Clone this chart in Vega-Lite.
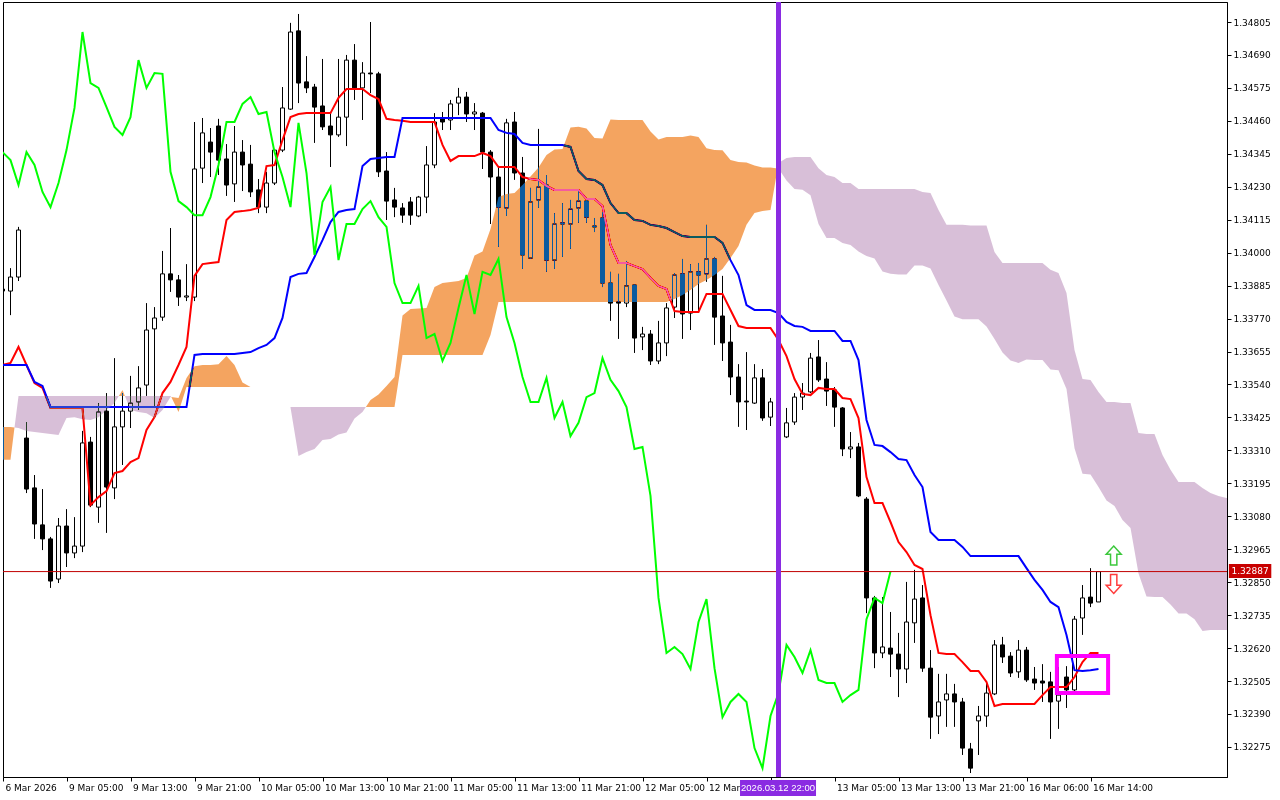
{
"$schema": "https://vega.github.io/schema/vega-lite/v6.json",
"width": 1224, "height": 775,
"autosize": {"type": "none"},
"padding": {"left": 3, "top": 2, "right": 53, "bottom": 23},
"background": "white",
"config": {"view": {"stroke": "#000000", "strokeWidth": 1}, "axis": {"labelFont": "DejaVu Sans", "labelFontSize": 9, "labelColor": "#000000", "tickColor": "#000000", "domainColor": "#000000", "grid": false}},
"datasets": {
"candles": [
{"i":0,"o":1.33873,"h":1.33877,"l":1.33863,"c":1.33866},
{"i":1,"o":1.33866,"h":1.33946,"l":1.33782,"c":1.33915},
{"i":2,"o":1.33915,"h":1.34090,"l":1.33901,"c":1.34079},
{"i":3,"o":1.33353,"h":1.33409,"l":1.33161,"c":1.33175},
{"i":4,"o":1.33179,"h":1.33224,"l":1.33001,"c":1.33053},
{"i":5,"o":1.33050,"h":1.33175,"l":1.32962,"c":1.33001},
{"i":6,"o":1.33001,"h":1.33008,"l":1.32830,"c":1.32854},
{"i":7,"o":1.32861,"h":1.33074,"l":1.32847,"c":1.33046},
{"i":8,"o":1.33046,"h":1.33105,"l":1.32903,"c":1.32952},
{"i":9,"o":1.32952,"h":1.33077,"l":1.32934,"c":1.32976},
{"i":10,"o":1.32976,"h":1.33378,"l":1.32955,"c":1.33336},
{"i":11,"o":1.33339,"h":1.33357,"l":1.33112,"c":1.33119},
{"i":12,"o":1.33112,"h":1.33475,"l":1.33057,"c":1.33444},
{"i":13,"o":1.33447,"h":1.33510,"l":1.33022,"c":1.33182},
{"i":14,"o":1.33179,"h":1.33632,"l":1.33140,"c":1.33392},
{"i":15,"o":1.33392,"h":1.33510,"l":1.33259,"c":1.33447},
{"i":16,"o":1.33447,"h":1.33570,"l":1.33388,"c":1.33475},
{"i":17,"o":1.33479,"h":1.33604,"l":1.33451,"c":1.33528},
{"i":18,"o":1.33538,"h":1.33824,"l":1.33500,"c":1.33730},
{"i":19,"o":1.33734,"h":1.33810,"l":1.33461,"c":1.33772},
{"i":20,"o":1.33775,"h":1.34006,"l":1.33762,"c":1.33926},
{"i":21,"o":1.33926,"h":1.34086,"l":1.33863,"c":1.33905},
{"i":22,"o":1.33905,"h":1.33922,"l":1.33814,"c":1.33845},
{"i":23,"o":1.33845,"h":1.33960,"l":1.33831,"c":1.33849},
{"i":24,"o":1.33845,"h":1.34456,"l":1.33831,"c":1.34292},
{"i":25,"o":1.34295,"h":1.34470,"l":1.34243,"c":1.34418},
{"i":26,"o":1.34386,"h":1.34435,"l":1.34264,"c":1.34351},
{"i":27,"o":1.34442,"h":1.34467,"l":1.34271,"c":1.34323},
{"i":28,"o":1.34327,"h":1.34379,"l":1.34198,"c":1.34236},
{"i":29,"o":1.34240,"h":1.34442,"l":1.34177,"c":1.34351},
{"i":30,"o":1.34351,"h":1.34393,"l":1.34215,"c":1.34306},
{"i":31,"o":1.34309,"h":1.34376,"l":1.34194,"c":1.34212},
{"i":32,"o":1.34219,"h":1.34257,"l":1.34138,"c":1.34159},
{"i":33,"o":1.34159,"h":1.34282,"l":1.34138,"c":1.34243},
{"i":34,"o":1.34243,"h":1.34362,"l":1.34236,"c":1.34358},
{"i":35,"o":1.34358,"h":1.34578,"l":1.34351,"c":1.34505},
{"i":36,"o":1.34501,"h":1.34802,"l":1.34498,"c":1.34770},
{"i":37,"o":1.34774,"h":1.34833,"l":1.34522,"c":1.34592},
{"i":38,"o":1.34596,"h":1.34686,"l":1.34557,"c":1.34575},
{"i":39,"o":1.34578,"h":1.34589,"l":1.34383,"c":1.34508},
{"i":40,"o":1.34512,"h":1.34676,"l":1.34428,"c":1.34439},
{"i":41,"o":1.34442,"h":1.34487,"l":1.34299,"c":1.34411},
{"i":42,"o":1.34411,"h":1.34676,"l":1.34404,"c":1.34473},
{"i":43,"o":1.34473,"h":1.34690,"l":1.34372,"c":1.34672},
{"i":44,"o":1.34672,"h":1.34728,"l":1.34533,"c":1.34575},
{"i":45,"o":1.34575,"h":1.34665,"l":1.34463,"c":1.34627},
{"i":46,"o":1.34627,"h":1.34805,"l":1.34557,"c":1.34624},
{"i":47,"o":1.34624,"h":1.34631,"l":1.34264,"c":1.34282},
{"i":48,"o":1.34285,"h":1.34351,"l":1.34114,"c":1.34180},
{"i":49,"o":1.34184,"h":1.34226,"l":1.34124,"c":1.34159},
{"i":50,"o":1.34156,"h":1.34173,"l":1.34104,"c":1.34131},
{"i":51,"o":1.34177,"h":1.34194,"l":1.34097,"c":1.34131},
{"i":52,"o":1.34128,"h":1.34198,"l":1.34124,"c":1.34194},
{"i":53,"o":1.34194,"h":1.34372,"l":1.34138,"c":1.34306},
{"i":54,"o":1.34306,"h":1.34487,"l":1.34295,"c":1.34456},
{"i":55,"o":1.34467,"h":1.34491,"l":1.34428,"c":1.34456},
{"i":56,"o":1.34463,"h":1.34533,"l":1.34428,"c":1.34519},
{"i":57,"o":1.34522,"h":1.34575,"l":1.34480,"c":1.34543},
{"i":58,"o":1.34543,"h":1.34561,"l":1.34456,"c":1.34484},
{"i":59,"o":1.34484,"h":1.34522,"l":1.34428,"c":1.34491},
{"i":60,"o":1.34487,"h":1.34491,"l":1.34292,"c":1.34351},
{"i":61,"o":1.34351,"h":1.34358,"l":1.34100,"c":1.34264},
{"i":62,"o":1.34264,"h":1.34299,"l":1.34020,"c":1.34159},
{"i":63,"o":1.34156,"h":1.34467,"l":1.34128,"c":1.34453},
{"i":64,"o":1.34456,"h":1.34491,"l":1.34254,"c":1.34278},
{"i":65,"o":1.34278,"h":1.34334,"l":1.33943,"c":1.33992},
{"i":66,"o":1.33981,"h":1.34226,"l":1.33978,"c":1.34177},
{"i":67,"o":1.34184,"h":1.34432,"l":1.34156,"c":1.34229},
{"i":68,"o":1.34236,"h":1.34271,"l":1.33933,"c":1.33974},
{"i":69,"o":1.33974,"h":1.34138,"l":1.33943,"c":1.34100},
{"i":70,"o":1.34104,"h":1.34173,"l":1.33985,"c":1.34100},
{"i":71,"o":1.34100,"h":1.34184,"l":1.34013,"c":1.34152},
{"i":72,"o":1.34156,"h":1.34222,"l":1.34104,"c":1.34180},
{"i":73,"o":1.34180,"h":1.34191,"l":1.34104,"c":1.34124},
{"i":74,"o":1.34093,"h":1.34121,"l":1.34072,"c":1.34090},
{"i":75,"o":1.34121,"h":1.34142,"l":1.33880,"c":1.33894},
{"i":76,"o":1.33894,"h":1.33933,"l":1.33762,"c":1.33824},
{"i":77,"o":1.33828,"h":1.33926,"l":1.33699,"c":1.33824},
{"i":78,"o":1.33824,"h":1.33971,"l":1.33810,"c":1.33884},
{"i":79,"o":1.33887,"h":1.33890,"l":1.33650,"c":1.33702},
{"i":80,"o":1.33706,"h":1.33741,"l":1.33660,"c":1.33716},
{"i":81,"o":1.33716,"h":1.33730,"l":1.33608,"c":1.33622},
{"i":82,"o":1.33622,"h":1.33762,"l":1.33611,"c":1.33685},
{"i":83,"o":1.33685,"h":1.33824,"l":1.33639,"c":1.33807},
{"i":84,"o":1.33810,"h":1.33929,"l":1.33772,"c":1.33922},
{"i":85,"o":1.33926,"h":1.33978,"l":1.33699,"c":1.33786},
{"i":86,"o":1.33789,"h":1.33960,"l":1.33730,"c":1.33933},
{"i":87,"o":1.33933,"h":1.33964,"l":1.33793,"c":1.33922},
{"i":88,"o":1.33926,"h":1.34097,"l":1.33898,"c":1.33978},
{"i":89,"o":1.33978,"h":1.33985,"l":1.33678,"c":1.33775},
{"i":90,"o":1.33779,"h":1.33919,"l":1.33622,"c":1.33685},
{"i":91,"o":1.33688,"h":1.33748,"l":1.33503,"c":1.33566},
{"i":92,"o":1.33566,"h":1.33611,"l":1.33392,"c":1.33479},
{"i":93,"o":1.33482,"h":1.33653,"l":1.33381,"c":1.33479},
{"i":94,"o":1.33475,"h":1.33611,"l":1.33472,"c":1.33563},
{"i":95,"o":1.33563,"h":1.33594,"l":1.33413,"c":1.33423},
{"i":96,"o":1.33426,"h":1.33493,"l":1.33395,"c":1.33479},
{"i":97,"o":1.33479,"h":1.33493,"l":1.33346,"c":1.33360},
{"i":98,"o":1.33357,"h":1.33458,"l":1.33353,"c":1.33406},
{"i":99,"o":1.33409,"h":1.33510,"l":1.33399,"c":1.33496},
{"i":100,"o":1.33496,"h":1.33545,"l":1.33451,"c":1.33510},
{"i":101,"o":1.33514,"h":1.33650,"l":1.33510,"c":1.33632},
{"i":102,"o":1.33636,"h":1.33695,"l":1.33549,"c":1.33556},
{"i":103,"o":1.33559,"h":1.33618,"l":1.33465,"c":1.33517},
{"i":104,"o":1.33521,"h":1.33531,"l":1.33392,"c":1.33461},
{"i":105,"o":1.33458,"h":1.33461,"l":1.33290,"c":1.33315},
{"i":106,"o":1.33315,"h":1.33374,"l":1.33283,"c":1.33322},
{"i":107,"o":1.33322,"h":1.33336,"l":1.33147,"c":1.33151},
{"i":108,"o":1.33140,"h":1.33147,"l":1.32742,"c":1.32795},
{"i":109,"o":1.32795,"h":1.32802,"l":1.32550,"c":1.32603},
{"i":110,"o":1.32603,"h":1.32798,"l":1.32585,"c":1.32624},
{"i":111,"o":1.32620,"h":1.32746,"l":1.32519,"c":1.32599},
{"i":112,"o":1.32599,"h":1.32673,"l":1.32449,"c":1.32547},
{"i":113,"o":1.32547,"h":1.32851,"l":1.32498,"c":1.32711},
{"i":114,"o":1.32708,"h":1.32893,"l":1.32638,"c":1.32791},
{"i":115,"o":1.32795,"h":1.32840,"l":1.32537,"c":1.32550},
{"i":116,"o":1.32550,"h":1.32613,"l":1.32303,"c":1.32379},
{"i":117,"o":1.32383,"h":1.32530,"l":1.32320,"c":1.32432},
{"i":118,"o":1.32439,"h":1.32530,"l":1.32345,"c":1.32460},
{"i":119,"o":1.32460,"h":1.32495,"l":1.32345,"c":1.32432},
{"i":120,"o":1.32432,"h":1.32446,"l":1.32247,"c":1.32271},
{"i":121,"o":1.32268,"h":1.32289,"l":1.32184,"c":1.32201},
{"i":122,"o":1.32366,"h":1.32418,"l":1.32247,"c":1.32383},
{"i":123,"o":1.32383,"h":1.32498,"l":1.32345,"c":1.32463},
{"i":124,"o":1.32460,"h":1.32648,"l":1.32456,"c":1.32631},
{"i":125,"o":1.32631,"h":1.32659,"l":1.32568,"c":1.32589},
{"i":126,"o":1.32592,"h":1.32606,"l":1.32519,"c":1.32533},
{"i":127,"o":1.32537,"h":1.32648,"l":1.32516,"c":1.32613},
{"i":128,"o":1.32613,"h":1.32624,"l":1.32502,"c":1.32509},
{"i":129,"o":1.32512,"h":1.32554,"l":1.32474,"c":1.32498},
{"i":130,"o":1.32505,"h":1.32564,"l":1.32432,"c":1.32498},
{"i":131,"o":1.32502,"h":1.32537,"l":1.32303,"c":1.32432},
{"i":132,"o":1.32435,"h":1.32554,"l":1.32338,"c":1.32456},
{"i":133,"o":1.32519,"h":1.32557,"l":1.32411,"c":1.32474},
{"i":134,"o":1.32474,"h":1.32732,"l":1.32467,"c":1.32721},
{"i":135,"o":1.32725,"h":1.32840,"l":1.32666,"c":1.32795},
{"i":136,"o":1.32798,"h":1.32899,"l":1.32763,"c":1.32777},
{"i":137,"o":1.32781,"h":1.32889,"l":1.32781,"c":1.32887}
],
"lines": [
{"i":0,"t":1.33608,"k":1.33608},{"i":1,"t":1.33615,"k":1.33608},{"i":2,"t":1.33671,"k":1.33608},{"i":3,"t":1.33608,"k":1.33608},
{"i":4,"t":1.33545,"k":1.33549},{"i":5,"t":1.33528,"k":1.33535},{"i":6,"t":1.33458,"k":1.33461},{"i":7,"t":1.33458,"k":1.33461},
{"i":8,"t":1.33458,"k":1.33461},{"i":9,"t":1.33458,"k":1.33461},{"i":10,"t":1.33458,"k":1.33461},{"i":11,"t":1.33119,"k":1.33461},
{"i":12,"t":1.33147,"k":1.33461},{"i":13,"t":1.33168,"k":1.33461},{"i":14,"t":1.33231,"k":1.33461},{"i":15,"t":1.33238,"k":1.33461},
{"i":16,"t":1.33269,"k":1.33461},{"i":17,"t":1.33283,"k":1.33461},{"i":18,"t":1.33381,"k":1.33461},{"i":19,"t":1.33426,"k":1.33461},
{"i":20,"t":1.33510,"k":1.33461},{"i":21,"t":1.33549,"k":1.33461},{"i":22,"t":1.33608,"k":1.33461},{"i":23,"t":1.33671,"k":1.33461},
{"i":24,"t":1.33919,"k":1.33643},{"i":25,"t":1.33960,"k":1.33646},{"i":26,"t":1.33964,"k":1.33646},{"i":27,"t":1.33967,"k":1.33646},
{"i":28,"t":1.34114,"k":1.33646},{"i":29,"t":1.34142,"k":1.33646},{"i":30,"t":1.34145,"k":1.33650},{"i":31,"t":1.34149,"k":1.33653},
{"i":32,"t":1.34156,"k":1.33667},{"i":33,"t":1.34302,"k":1.33678},{"i":34,"t":1.34306,"k":1.33702},{"i":35,"t":1.34393,"k":1.33772},
{"i":36,"t":1.34473,"k":1.33915},{"i":37,"t":1.34484,"k":1.33926},{"i":38,"t":1.34487,"k":1.33929},{"i":39,"t":1.34487,"k":1.33985},
{"i":40,"t":1.34487,"k":1.34044},{"i":41,"t":1.34487,"k":1.34107},{"i":42,"t":1.34540,"k":1.34142},{"i":43,"t":1.34571,"k":1.34149},
{"i":44,"t":1.34571,"k":1.34152},{"i":45,"t":1.34571,"k":1.34302},{"i":46,"t":1.34550,"k":1.34327},{"i":47,"t":1.34536,"k":1.34330},
{"i":48,"t":1.34467,"k":1.34334},{"i":49,"t":1.34463,"k":1.34334},{"i":50,"t":1.34460,"k":1.34470},{"i":51,"t":1.34456,"k":1.34470},
{"i":52,"t":1.34456,"k":1.34470},{"i":53,"t":1.34456,"k":1.34470},{"i":54,"t":1.34456,"k":1.34470},{"i":55,"t":1.34376,"k":1.34470},
{"i":56,"t":1.34320,"k":1.34470},{"i":57,"t":1.34337,"k":1.34470},{"i":58,"t":1.34337,"k":1.34470},{"i":59,"t":1.34337,"k":1.34470},
{"i":60,"t":1.34348,"k":1.34470},{"i":61,"t":1.34337,"k":1.34470},{"i":62,"t":1.34299,"k":1.34428},{"i":63,"t":1.34299,"k":1.34418},
{"i":64,"t":1.34299,"k":1.34414},{"i":65,"t":1.34264,"k":1.34383},{"i":66,"t":1.34257,"k":1.34376},{"i":67,"t":1.34254,"k":1.34376},
{"i":68,"t":1.34233,"k":1.34376},{"i":69,"t":1.34219,"k":1.34376},{"i":70,"t":1.34219,"k":1.34376},{"i":71,"t":1.34219,"k":1.34369},
{"i":72,"t":1.34219,"k":1.34285},{"i":73,"t":1.34187,"k":1.34257},{"i":74,"t":1.34187,"k":1.34254},{"i":75,"t":1.34163,"k":1.34236},
{"i":76,"t":1.34027,"k":1.34173},{"i":77,"t":1.33964,"k":1.34138},{"i":78,"t":1.33964,"k":1.34138},{"i":79,"t":1.33953,"k":1.34114},
{"i":80,"t":1.33943,"k":1.34111},{"i":81,"t":1.33912,"k":1.34097},{"i":82,"t":1.33884,"k":1.34093},{"i":83,"t":1.33873,"k":1.34086},
{"i":84,"t":1.33796,"k":1.34072},{"i":85,"t":1.33793,"k":1.34058},{"i":86,"t":1.33793,"k":1.34055},{"i":87,"t":1.33793,"k":1.34055},
{"i":88,"t":1.33856,"k":1.34055},{"i":89,"t":1.33856,"k":1.34055},{"i":90,"t":1.33856,"k":1.34034},{"i":91,"t":1.33800,"k":1.33974},
{"i":92,"t":1.33744,"k":1.33922},{"i":93,"t":1.33737,"k":1.33817},{"i":94,"t":1.33737,"k":1.33800},{"i":95,"t":1.33737,"k":1.33800},
{"i":96,"t":1.33737,"k":1.33800},{"i":97,"t":1.33695,"k":1.33789},{"i":98,"t":1.33639,"k":1.33758},{"i":99,"t":1.33559,"k":1.33744},
{"i":100,"t":1.33507,"k":1.33741},{"i":101,"t":1.33503,"k":1.33727},{"i":102,"t":1.33528,"k":1.33727},{"i":103,"t":1.33524,"k":1.33727},
{"i":104,"t":1.33524,"k":1.33727},{"i":105,"t":1.33493,"k":1.33692},{"i":106,"t":1.33489,"k":1.33692},{"i":107,"t":1.33423,"k":1.33625},
{"i":108,"t":1.33217,"k":1.33416},{"i":109,"t":1.33126,"k":1.33329},{"i":110,"t":1.33126,"k":1.33325},{"i":111,"t":1.33060,"k":1.33304},
{"i":112,"t":1.32990,"k":1.33280},{"i":113,"t":1.32955,"k":1.33276},{"i":114,"t":1.32910,"k":1.33224},{"i":115,"t":1.32896,"k":1.33182},
{"i":116,"t":1.32735,"k":1.33025},{"i":117,"t":1.32603,"k":1.32997},{"i":118,"t":1.32599,"k":1.32997},{"i":119,"t":1.32599,"k":1.32997},
{"i":120,"t":1.32571,"k":1.32973},{"i":121,"t":1.32540,"k":1.32941},{"i":122,"t":1.32540,"k":1.32941},{"i":123,"t":1.32502,"k":1.32941},
{"i":124,"t":1.32418,"k":1.32941},{"i":125,"t":1.32425,"k":1.32941},{"i":126,"t":1.32425,"k":1.32941},{"i":127,"t":1.32425,"k":1.32941},
{"i":128,"t":1.32425,"k":1.32899},{"i":129,"t":1.32425,"k":1.32858},{"i":130,"t":1.32456,"k":1.32823},{"i":131,"t":1.32484,"k":1.32781},
{"i":132,"t":1.32484,"k":1.32763},{"i":133,"t":1.32484,"k":1.32666},{"i":134,"t":1.32519,"k":1.32543},{"i":135,"t":1.32571,"k":1.32540},
{"i":136,"t":1.32603,"k":1.32543},{"i":137,"t":1.32603,"k":1.32547}
],
"chikou": [
{"i":0,"v":1.34351},{"i":1,"v":1.34323},{"i":2,"v":1.34236},{"i":3,"v":1.34351},{"i":4,"v":1.34306},{"i":5,"v":1.34212},
{"i":6,"v":1.34159},{"i":7,"v":1.34243},{"i":8,"v":1.34358},{"i":9,"v":1.34505},{"i":10,"v":1.34770},{"i":11,"v":1.34592},
{"i":12,"v":1.34575},{"i":13,"v":1.34508},{"i":14,"v":1.34439},{"i":15,"v":1.34411},{"i":16,"v":1.34473},{"i":17,"v":1.34672},
{"i":18,"v":1.34575},{"i":19,"v":1.34627},{"i":20,"v":1.34624},{"i":21,"v":1.34282},{"i":22,"v":1.34180},{"i":23,"v":1.34159},
{"i":24,"v":1.34131},{"i":25,"v":1.34131},{"i":26,"v":1.34194},{"i":27,"v":1.34306},{"i":28,"v":1.34456},{"i":29,"v":1.34456},
{"i":30,"v":1.34519},{"i":31,"v":1.34543},{"i":32,"v":1.34484},{"i":33,"v":1.34491},{"i":34,"v":1.34351},{"i":35,"v":1.34264},
{"i":36,"v":1.34159},{"i":37,"v":1.34453},{"i":38,"v":1.34278},{"i":39,"v":1.33992},{"i":40,"v":1.34177},{"i":41,"v":1.34229},
{"i":42,"v":1.33974},{"i":43,"v":1.34100},{"i":44,"v":1.34100},{"i":45,"v":1.34152},{"i":46,"v":1.34180},{"i":47,"v":1.34124},
{"i":48,"v":1.34090},{"i":49,"v":1.33894},{"i":50,"v":1.33824},{"i":51,"v":1.33824},{"i":52,"v":1.33884},{"i":53,"v":1.33702},
{"i":54,"v":1.33716},{"i":55,"v":1.33622},{"i":56,"v":1.33685},{"i":57,"v":1.33807},{"i":58,"v":1.33922},{"i":59,"v":1.33786},
{"i":60,"v":1.33933},{"i":61,"v":1.33922},{"i":62,"v":1.33978},{"i":63,"v":1.33775},{"i":64,"v":1.33685},{"i":65,"v":1.33566},
{"i":66,"v":1.33479},{"i":67,"v":1.33479},{"i":68,"v":1.33563},{"i":69,"v":1.33423},{"i":70,"v":1.33479},{"i":71,"v":1.33360},
{"i":72,"v":1.33406},{"i":73,"v":1.33496},{"i":74,"v":1.33510},{"i":75,"v":1.33632},{"i":76,"v":1.33556},{"i":77,"v":1.33517},
{"i":78,"v":1.33461},{"i":79,"v":1.33315},{"i":80,"v":1.33322},{"i":81,"v":1.33151},{"i":82,"v":1.32795},{"i":83,"v":1.32603},
{"i":84,"v":1.32624},{"i":85,"v":1.32599},{"i":86,"v":1.32547},{"i":87,"v":1.32711},{"i":88,"v":1.32791},{"i":89,"v":1.32550},
{"i":90,"v":1.32379},{"i":91,"v":1.32432},{"i":92,"v":1.32460},{"i":93,"v":1.32432},{"i":94,"v":1.32271},{"i":95,"v":1.32201},
{"i":96,"v":1.32383},{"i":97,"v":1.32463},{"i":98,"v":1.32631},{"i":99,"v":1.32589},{"i":100,"v":1.32533},{"i":101,"v":1.32613},
{"i":102,"v":1.32509},{"i":103,"v":1.32498},{"i":104,"v":1.32498},{"i":105,"v":1.32432},{"i":106,"v":1.32456},{"i":107,"v":1.32474},
{"i":108,"v":1.32721},{"i":109,"v":1.32795},{"i":110,"v":1.32777},{"i":111,"v":1.32887}
],
"cloud": [
{"j":0.0625,"a":1.33392,"b":1.33277,"s":1,"k":"bull"},{"j":1,"a":1.33392,"b":1.33277,"s":1,"k":"bull"},{"j":1.5,"a":1.3339,"b":1.3339,"s":1,"k":"bull"},
{"j":1.5,"a":1.3339,"b":1.3339,"s":2,"k":"bear"},{"j":2,"a":1.33388,"b":1.335,"s":2,"k":"bear"},{"j":3,"a":1.33378,"b":1.335,"s":2,"k":"bear"},
{"j":4,"a":1.33374,"b":1.335,"s":2,"k":"bear"},{"j":5,"a":1.33371,"b":1.335,"s":2,"k":"bear"},{"j":6,"a":1.33367,"b":1.335,"s":2,"k":"bear"},
{"j":7,"a":1.33364,"b":1.335,"s":2,"k":"bear"},{"j":8,"a":1.33423,"b":1.335,"s":2,"k":"bear"},{"j":9,"a":1.33426,"b":1.335,"s":2,"k":"bear"},
{"j":10,"a":1.33419,"b":1.335,"s":2,"k":"bear"},{"j":11,"a":1.33416,"b":1.335,"s":2,"k":"bear"},{"j":12,"a":1.33426,"b":1.335,"s":2,"k":"bear"},
{"j":13,"a":1.33451,"b":1.335,"s":2,"k":"bear"},{"j":14,"a":1.33475,"b":1.335,"s":2,"k":"bear"},{"j":14.54,"a":1.335,"b":1.335,"s":2,"k":"bear"},
{"j":14.54,"a":1.335,"b":1.335,"s":3,"k":"bull"},{"j":15,"a":1.33521,"b":1.335,"s":3,"k":"bull"},{"j":15.3,"a":1.335,"b":1.335,"s":3,"k":"bull"},
{"j":15.3,"a":1.335,"b":1.335,"s":4,"k":"bear"},{"j":16,"a":1.33451,"b":1.335,"s":4,"k":"bear"},{"j":17,"a":1.33444,"b":1.335,"s":4,"k":"bear"},
{"j":18,"a":1.3344,"b":1.335,"s":4,"k":"bear"},{"j":19,"a":1.33423,"b":1.335,"s":4,"k":"bear"},{"j":20,"a":1.33451,"b":1.335,"s":4,"k":"bear"},
{"j":21,"a":1.33496,"b":1.335,"s":4,"k":"bear"},{"j":21.1,"a":1.33496,"b":1.33496,"s":4,"k":"bear"},
{"j":21.1,"a":1.33496,"b":1.33496,"s":5,"k":"bull"},{"j":22,"a":1.33493,"b":1.33444,"s":5,"k":"bull"},{"j":23,"a":1.33563,"b":1.33531,"s":5,"k":"bull"},
{"j":24,"a":1.33604,"b":1.33531,"s":5,"k":"bull"},{"j":25,"a":1.33608,"b":1.33531,"s":5,"k":"bull"},{"j":26,"a":1.33608,"b":1.33531,"s":5,"k":"bull"},
{"j":27,"a":1.33611,"b":1.33531,"s":5,"k":"bull"},{"j":28,"a":1.33639,"b":1.33531,"s":5,"k":"bull"},{"j":29,"a":1.33608,"b":1.33531,"s":5,"k":"bull"},
{"j":30,"a":1.33547,"b":1.33531,"s":5,"k":"bull"},{"j":31,"a":1.33531,"b":1.33531,"s":5,"k":"bull"},
{"j":36,"a":1.3346,"b":1.33461,"s":6,"k":"bear"},{"j":37,"a":1.3329,"b":1.33461,"s":6,"k":"bear"},{"j":38,"a":1.33304,"b":1.33461,"s":6,"k":"bear"},
{"j":39,"a":1.33315,"b":1.33461,"s":6,"k":"bear"},{"j":40,"a":1.33346,"b":1.33461,"s":6,"k":"bear"},{"j":41,"a":1.3335,"b":1.33461,"s":6,"k":"bear"},
{"j":42,"a":1.33365,"b":1.33461,"s":6,"k":"bear"},{"j":43,"a":1.33372,"b":1.33461,"s":6,"k":"bear"},{"j":44,"a":1.33421,"b":1.33461,"s":6,"k":"bear"},
{"j":45,"a":1.33444,"b":1.33461,"s":6,"k":"bear"},{"j":45.42,"a":1.33461,"b":1.33461,"s":6,"k":"bear"},
{"j":45.42,"a":1.33461,"b":1.33461,"s":7,"k":"bull"},{"j":46,"a":1.33486,"b":1.33461,"s":7,"k":"bull"},{"j":47,"a":1.33505,"b":1.33461,"s":7,"k":"bull"},
{"j":48,"a":1.33535,"b":1.33461,"s":7,"k":"bull"},{"j":49,"a":1.33566,"b":1.33461,"s":7,"k":"bull"},{"j":50,"a":1.33781,"b":1.33643,"s":7,"k":"bull"},
{"j":51,"a":1.33803,"b":1.33643,"s":7,"k":"bull"},{"j":52,"a":1.33805,"b":1.33643,"s":7,"k":"bull"},{"j":53,"a":1.33807,"b":1.33643,"s":7,"k":"bull"},
{"j":54,"a":1.3388,"b":1.33643,"s":7,"k":"bull"},{"j":55,"a":1.33894,"b":1.33643,"s":7,"k":"bull"},{"j":56,"a":1.33898,"b":1.33643,"s":7,"k":"bull"},
{"j":57,"a":1.33901,"b":1.33643,"s":7,"k":"bull"},{"j":58,"a":1.33912,"b":1.33643,"s":7,"k":"bull"},{"j":59,"a":1.3399,"b":1.33643,"s":7,"k":"bull"},
{"j":60,"a":1.34004,"b":1.33643,"s":7,"k":"bull"},{"j":61,"a":1.34083,"b":1.33713,"s":7,"k":"bull"},{"j":62,"a":1.34194,"b":1.33828,"s":7,"k":"bull"},
{"j":63,"a":1.34205,"b":1.33828,"s":7,"k":"bull"},{"j":64,"a":1.34208,"b":1.33828,"s":7,"k":"bull"},{"j":65,"a":1.34236,"b":1.33828,"s":7,"k":"bull"},
{"j":66,"a":1.34266,"b":1.33828,"s":7,"k":"bull"},{"j":67,"a":1.34297,"b":1.33828,"s":7,"k":"bull"},{"j":68,"a":1.34341,"b":1.33828,"s":7,"k":"bull"},
{"j":69,"a":1.3436,"b":1.33828,"s":7,"k":"bull"},{"j":70,"a":1.34362,"b":1.33828,"s":7,"k":"bull"},{"j":71,"a":1.34437,"b":1.33828,"s":7,"k":"bull"},
{"j":72,"a":1.34439,"b":1.33828,"s":7,"k":"bull"},{"j":73,"a":1.34433,"b":1.33828,"s":7,"k":"bull"},{"j":74,"a":1.344,"b":1.33828,"s":7,"k":"bull"},
{"j":75,"a":1.34398,"b":1.33828,"s":7,"k":"bull"},{"j":76,"a":1.34465,"b":1.33828,"s":7,"k":"bull"},{"j":77,"a":1.34463,"b":1.33828,"s":7,"k":"bull"},
{"j":78,"a":1.34463,"b":1.33828,"s":7,"k":"bull"},{"j":79,"a":1.34463,"b":1.33828,"s":7,"k":"bull"},{"j":80,"a":1.34463,"b":1.33828,"s":7,"k":"bull"},
{"j":81,"a":1.34423,"b":1.33828,"s":7,"k":"bull"},{"j":82,"a":1.34395,"b":1.33828,"s":7,"k":"bull"},{"j":83,"a":1.34404,"b":1.33828,"s":7,"k":"bull"},
{"j":84,"a":1.34404,"b":1.33838,"s":7,"k":"bull"},{"j":85,"a":1.34404,"b":1.33852,"s":7,"k":"bull"},{"j":86,"a":1.34409,"b":1.3387,"s":7,"k":"bull"},
{"j":87,"a":1.34404,"b":1.33891,"s":7,"k":"bull"},{"j":88,"a":1.34364,"b":1.33905,"s":7,"k":"bull"},{"j":89,"a":1.34358,"b":1.33922,"s":7,"k":"bull"},
{"j":90,"a":1.34357,"b":1.33943,"s":7,"k":"bull"},{"j":91,"a":1.34323,"b":1.33981,"s":7,"k":"bull"},{"j":92,"a":1.34316,"b":1.34023,"s":7,"k":"bull"},
{"j":93,"a":1.34315,"b":1.34097,"s":7,"k":"bull"},{"j":94,"a":1.34304,"b":1.34138,"s":7,"k":"bull"},{"j":95,"a":1.34297,"b":1.34145,"s":7,"k":"bull"},
{"j":96,"a":1.34297,"b":1.34149,"s":7,"k":"bull"},{"j":96.885,"a":1.34294,"b":1.34294,"s":7,"k":"bull"},
{"j":96.885,"a":1.34294,"b":1.34294,"s":8,"k":"bear"},{"j":97,"a":1.34294,"b":1.34313,"s":8,"k":"bear"},{"j":98,"a":1.34252,"b":1.3433,"s":8,"k":"bear"},
{"j":99,"a":1.34222,"b":1.34334,"s":8,"k":"bear"},{"j":100,"a":1.3422,"b":1.34334,"s":8,"k":"bear"},{"j":101,"a":1.342,"b":1.34334,"s":8,"k":"bear"},
{"j":102,"a":1.341,"b":1.34295,"s":8,"k":"bear"},{"j":103,"a":1.34051,"b":1.34271,"s":8,"k":"bear"},{"j":104,"a":1.34051,"b":1.34264,"s":8,"k":"bear"},
{"j":105,"a":1.34034,"b":1.34243,"s":8,"k":"bear"},{"j":106,"a":1.34027,"b":1.34243,"s":8,"k":"bear"},{"j":107,"a":1.34004,"b":1.34222,"s":8,"k":"bear"},
{"j":108,"a":1.33988,"b":1.34222,"s":8,"k":"bear"},{"j":109,"a":1.3398,"b":1.34222,"s":8,"k":"bear"},{"j":110,"a":1.33934,"b":1.34222,"s":8,"k":"bear"},
{"j":111,"a":1.33926,"b":1.34222,"s":8,"k":"bear"},{"j":112,"a":1.33924,"b":1.34222,"s":8,"k":"bear"},{"j":113,"a":1.33924,"b":1.34222,"s":8,"k":"bear"},
{"j":114,"a":1.33955,"b":1.34222,"s":8,"k":"bear"},{"j":115,"a":1.33955,"b":1.34212,"s":8,"k":"bear"},{"j":116,"a":1.33945,"b":1.34208,"s":8,"k":"bear"},
{"j":117,"a":1.33887,"b":1.34149,"s":8,"k":"bear"},{"j":118,"a":1.33833,"b":1.34097,"s":8,"k":"bear"},{"j":119,"a":1.33777,"b":1.34097,"s":8,"k":"bear"},
{"j":120,"a":1.33768,"b":1.34097,"s":8,"k":"bear"},{"j":121,"a":1.33768,"b":1.34095,"s":8,"k":"bear"},{"j":122,"a":1.33768,"b":1.34095,"s":8,"k":"bear"},
{"j":123,"a":1.33742,"b":1.34095,"s":8,"k":"bear"},{"j":124,"a":1.33699,"b":1.34002,"s":8,"k":"bear"},{"j":125,"a":1.33652,"b":1.33964,"s":8,"k":"bear"},
{"j":126,"a":1.33624,"b":1.33964,"s":8,"k":"bear"},{"j":127,"a":1.33615,"b":1.33964,"s":8,"k":"bear"},{"j":128,"a":1.33627,"b":1.33964,"s":8,"k":"bear"},
{"j":129,"a":1.33625,"b":1.33964,"s":8,"k":"bear"},{"j":130,"a":1.33625,"b":1.33964,"s":8,"k":"bear"},{"j":131,"a":1.33592,"b":1.3394,"s":8,"k":"bear"},
{"j":132,"a":1.3359,"b":1.33929,"s":8,"k":"bear"},{"j":133,"a":1.33524,"b":1.33859,"s":8,"k":"bear"},{"j":134,"a":1.33317,"b":1.3366,"s":8,"k":"bear"},
{"j":135,"a":1.33228,"b":1.33559,"s":8,"k":"bear"},{"j":136,"a":1.33226,"b":1.33556,"s":8,"k":"bear"},{"j":137,"a":1.33182,"b":1.33514,"s":8,"k":"bear"},
{"j":138,"a":1.33135,"b":1.33479,"s":8,"k":"bear"},{"j":139,"a":1.33116,"b":1.33479,"s":8,"k":"bear"},{"j":140,"a":1.33067,"b":1.33475,"s":8,"k":"bear"},
{"j":141,"a":1.33039,"b":1.33475,"s":8,"k":"bear"},{"j":142,"a":1.3288,"b":1.33371,"s":8,"k":"bear"},{"j":143,"a":1.328,"b":1.33367,"s":8,"k":"bear"},
{"j":144,"a":1.32798,"b":1.33367,"s":8,"k":"bear"},{"j":145,"a":1.32798,"b":1.33294,"s":8,"k":"bear"},{"j":146,"a":1.32772,"b":1.33242,"s":8,"k":"bear"},
{"j":147,"a":1.32741,"b":1.332,"s":8,"k":"bear"},{"j":148,"a":1.32741,"b":1.332,"s":8,"k":"bear"},{"j":149,"a":1.32721,"b":1.332,"s":8,"k":"bear"},
{"j":150,"a":1.3268,"b":1.33179,"s":8,"k":"bear"},{"j":151,"a":1.32683,"b":1.33161,"s":8,"k":"bear"},{"j":152,"a":1.32683,"b":1.33151,"s":8,"k":"bear"},
{"j":153,"a":1.32683,"b":1.33144,"s":8,"k":"bear"},{"j":153.0625,"a":1.32683,"b":1.33144,"s":8,"k":"bear"}
]
},
"layer": [
{"data": {"name": "candles"},
 "mark": {"type": "rule", "color": "#000000", "strokeWidth": 1, "clip": true},
 "encoding": {
  "x": {"field": "i", "type": "quantitative", "title": null, "scale": {"domain": [0.0625, 153.0625], "nice": false, "zero": false, "padding": 0},
        "axis": {"orient": "bottom", "title": null, "values": [0.0625,8,16,24,32,40,48,56,64,72,80,88,96,104,112,120,128,136], "tickCount": 40,
                 "labelExpr": "['6 Mar 2026','9 Mar 05:00','9 Mar 13:00','9 Mar 21:00','10 Mar 05:00','10 Mar 13:00','10 Mar 21:00','11 Mar 05:00','11 Mar 13:00','11 Mar 21:00','12 Mar 05:00','12 Mar','','13 Mar 05:00','13 Mar 13:00','13 Mar 21:00','16 Mar 06:00','16 Mar 14:00'][round(datum.value/8)]",
                 "labelAlign": "left", "labelOffset": 2, "tickSize": 4, "labelPadding": 2, "labelFlush": false, "labelOverlap": false, "labelBound": false}},
  "y": {"field": "l", "type": "quantitative", "title": null, "scale": {"domain": [1.321701, 1.348748], "nice": false, "zero": false, "padding": 0},
        "axis": {"orient": "right", "title": null, "values": [1.34805,1.3469,1.34575,1.3446,1.34345,1.3423,1.34115,1.34,1.33885,1.3377,1.33655,1.3354,1.33425,1.3331,1.33195,1.3308,1.32965,1.3285,1.32735,1.3262,1.32505,1.3239,1.32275], "tickCount": 40,
                 "format": ".5f", "tickSize": 4, "labelPadding": 2, "labelFlush": false, "labelOverlap": false, "labelBound": false}},
  "y2": {"field": "h"}
 }},
{"data": {"name": "candles"},
 "mark": {"type": "bar", "size": 4, "stroke": "#000000", "strokeWidth": 1, "clip": true},
 "encoding": {
  "x": {"field": "i", "type": "quantitative", "title": null, "scale": {"domain": [0.0625, 153.0625], "nice": false, "zero": false, "padding": 0}},
  "y": {"field": "o", "type": "quantitative", "title": null, "scale": {"domain": [1.321701, 1.348748], "nice": false, "zero": false, "padding": 0}},
  "y2": {"field": "c"},
  "fill": {"condition": {"test": "datum.c > datum.o", "value": "#ffffff"}, "value": "#000000"}
 }},
{"data": {"name": "lines"},
 "mark": {"type": "line", "color": "#ff0000", "strokeWidth": 2, "clip": true},
 "encoding": {
  "x": {"field": "i", "type": "quantitative", "title": null, "scale": {"domain": [0.0625, 153.0625], "nice": false, "zero": false, "padding": 0}},
  "y": {"field": "t", "type": "quantitative", "title": null, "scale": {"domain": [1.321701, 1.348748], "nice": false, "zero": false, "padding": 0}}
 }},
{"data": {"name": "lines"},
 "mark": {"type": "line", "color": "#0000ff", "strokeWidth": 2, "clip": true},
 "encoding": {
  "x": {"field": "i", "type": "quantitative", "title": null, "scale": {"domain": [0.0625, 153.0625], "nice": false, "zero": false, "padding": 0}},
  "y": {"field": "k", "type": "quantitative", "title": null, "scale": {"domain": [1.321701, 1.348748], "nice": false, "zero": false, "padding": 0}}
 }},
{"data": {"name": "cloud"},
 "mark": {"type": "area", "blend": "difference", "interpolate": "linear"},
 "encoding": {
  "x": {"field": "j", "type": "quantitative", "title": null, "scale": {"domain": [0.0625, 153.0625], "nice": false, "zero": false, "padding": 0}},
  "y": {"field": "a", "type": "quantitative", "title": null, "scale": {"domain": [1.321701, 1.348748], "nice": false, "zero": false, "padding": 0}},
  "y2": {"field": "b"},
  "detail": {"field": "s", "type": "nominal"},
  "color": {"field": "k", "type": "nominal", "scale": {"domain": ["bull", "bear"], "range": ["#0b5b9f", "#274027"]}, "legend": null}
 }},
{"data": {"name": "chikou"},
 "mark": {"type": "line", "color": "#00ff00", "strokeWidth": 2, "clip": true},
 "encoding": {
  "x": {"field": "i", "type": "quantitative", "title": null, "scale": {"domain": [0.0625, 153.0625], "nice": false, "zero": false, "padding": 0}},
  "y": {"field": "v", "type": "quantitative", "title": null, "scale": {"domain": [1.321701, 1.348748], "nice": false, "zero": false, "padding": 0}}
 }},
{"data": {"values": [{"p": 1.32887}]},
 "mark": {"type": "rule", "color": "#c00000", "strokeWidth": 1},
 "encoding": {"y": {"field": "p", "type": "quantitative", "title": null, "scale": {"domain": [1.321701, 1.348748], "nice": false, "zero": false, "padding": 0}}}},
{"data": {"values": [{"t": 97}]},
 "mark": {"type": "rule", "color": "#8a2be2", "strokeWidth": 5},
 "encoding": {"x": {"field": "t", "type": "quantitative", "title": null, "scale": {"domain": [0.0625, 153.0625], "nice": false, "zero": false, "padding": 0}}}},
{"data": {"values": [{}]},
 "mark": {"type": "rect", "fill": "transparent", "stroke": "#ff00ff", "strokeWidth": 4},
 "encoding": {
  "x": {"datum": 131.8, "type": "quantitative", "title": null, "scale": {"domain": [0.0625, 153.0625], "nice": false, "zero": false, "padding": 0}},
  "x2": {"datum": 138.2},
  "y": {"datum": 1.32592, "type": "quantitative", "title": null, "scale": {"domain": [1.321701, 1.348748], "nice": false, "zero": false, "padding": 0}},
  "y2": {"datum": 1.32463}
 }},
{"data": {"values": [{}]},
 "mark": {"type": "point", "shape": "M0,-1.27L1,-0.17L0.42,-0.17L0.42,1.27L-0.42,1.27L-0.42,-0.17L-1,-0.17Z", "size": 225, "filled": true, "fill": "#ffffff", "stroke": "#3cc83c", "strokeWidth": 1.5, "opacity": 1},
 "encoding": {
  "x": {"datum": 138.9, "type": "quantitative", "title": null, "scale": {"domain": [0.0625, 153.0625], "nice": false, "zero": false, "padding": 0}},
  "y": {"datum": 1.32943, "type": "quantitative", "title": null, "scale": {"domain": [1.321701, 1.348748], "nice": false, "zero": false, "padding": 0}}
 }},
{"data": {"values": [{}]},
 "mark": {"type": "point", "shape": "M0,1.27L1,0.17L0.42,0.17L0.42,-1.27L-0.42,-1.27L-0.42,0.17L-1,0.17Z", "size": 225, "filled": true, "fill": "#ffffff", "stroke": "#ff3c3c", "strokeWidth": 1.5, "opacity": 1},
 "encoding": {
  "x": {"datum": 138.9, "type": "quantitative", "title": null, "scale": {"domain": [0.0625, 153.0625], "nice": false, "zero": false, "padding": 0}},
  "y": {"datum": 1.32844, "type": "quantitative", "title": null, "scale": {"domain": [1.321701, 1.348748], "nice": false, "zero": false, "padding": 0}}
 }},
{"data": {"values": [{}]},
 "mark": {"type": "rect", "fill": "#8a2be2"},
 "encoding": {
  "x": {"datum": 92.19, "type": "quantitative", "title": null, "scale": {"domain": [0.0625, 153.0625], "nice": false, "zero": false, "padding": 0}},
  "x2": {"datum": 101.69},
  "y": {"datum": 1.321596, "type": "quantitative", "title": null, "scale": {"domain": [1.321701, 1.348748], "nice": false, "zero": false, "padding": 0}},
  "y2": {"datum": 1.321038}
 }},
{"data": {"values": [{"label": "2026.03.12 22:00"}]},
 "mark": {"type": "text", "color": "#ffffff", "font": "Liberation Sans", "fontSize": 9.5, "align": "center", "baseline": "middle"},
 "encoding": {
  "x": {"datum": 96.94, "type": "quantitative", "title": null, "scale": {"domain": [0.0625, 153.0625], "nice": false, "zero": false, "padding": 0}},
  "y": {"datum": 1.321317, "type": "quantitative", "title": null, "scale": {"domain": [1.321701, 1.348748], "nice": false, "zero": false, "padding": 0}},
  "text": {"field": "label"}
 }},
{"data": {"values": [{}]},
 "mark": {"type": "rect", "fill": "#c80000"},
 "encoding": {
  "x": {"datum": 153.3, "type": "quantitative", "title": null, "scale": {"domain": [0.0625, 153.0625], "nice": false, "zero": false, "padding": 0}},
  "x2": {"datum": 158.6},
  "y": {"datum": 1.329134, "type": "quantitative", "title": null, "scale": {"domain": [1.321701, 1.348748], "nice": false, "zero": false, "padding": 0}},
  "y2": {"datum": 1.328646}
 }},
{"data": {"values": [{"label": "1.32887"}]},
 "mark": {"type": "text", "color": "#ffffff", "font": "DejaVu Sans", "fontSize": 9, "align": "center", "baseline": "middle"},
 "encoding": {
  "x": {"datum": 155.95, "type": "quantitative", "title": null, "scale": {"domain": [0.0625, 153.0625], "nice": false, "zero": false, "padding": 0}},
  "y": {"datum": 1.32889, "type": "quantitative", "title": null, "scale": {"domain": [1.321701, 1.348748], "nice": false, "zero": false, "padding": 0}},
  "text": {"field": "label"}
 }}
]
}
